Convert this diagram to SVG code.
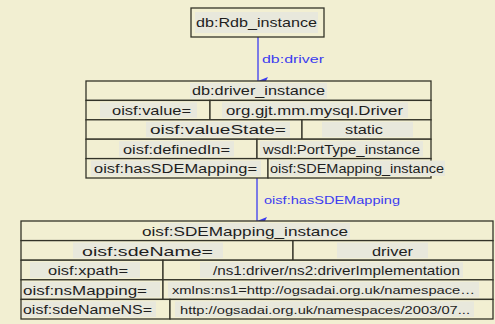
<svg xmlns="http://www.w3.org/2000/svg" width="495" height="324" viewBox="0 0 495 324">
  <style>
    .bg { fill: #f2efd2; }
    .cell { fill: #f2efd2; stroke: #333328; stroke-width: 1.3; }
    .hl { fill: #e8e8dc; }
    .t { font-family: "Liberation Sans", Arial, sans-serif; font-size: 13.5px; fill: #1e1e1e; }
    .s { font-family: "Liberation Sans", Arial, sans-serif; font-size: 11.5px; fill: #1e1e1e; }
    .edge { stroke: #3c3cf0; stroke-width: 1.3; fill: none; }
    .lbl { font-family: "Liberation Sans", Arial, sans-serif; font-size: 11.5px; fill: #3c3cf0; }
  </style>
  <defs>
    <marker id="arrow" viewBox="0 0 8 10" refX="4" refY="10" markerWidth="8" markerHeight="10" markerUnits="userSpaceOnUse" orient="auto-start-reverse">
      <path d="M0,0 L4,2 L8,0 L4,10 Z" fill="#3c3cf0"/>
    </marker>
  </defs>

  <rect class="bg" x="0" y="0" width="495" height="324"/>

  <g id="connectors">
    <g id="edge-driver">
      <line class="edge" x1="258" y1="37" x2="258" y2="81" marker-end="url(#arrow)" transform="rotate(0)"/>
      <text class="lbl" x="262" y="63" textLength="62" lengthAdjust="spacingAndGlyphs">db:driver</text>
    </g>
    <g id="edge-hasSDEMapping">
      <line class="edge" x1="257" y1="178" x2="257" y2="221" marker-end="url(#arrow)"/>
      <text class="lbl" x="264" y="204" textLength="136" lengthAdjust="spacingAndGlyphs">oisf:hasSDEMapping</text>
    </g>
  </g>

  <!-- db:Rdb_instance -->
  <g id="node-rdb-instance">
    <rect class="cell" x="191" y="8" width="133" height="29"/>
    <rect class="hl" x="195" y="12" width="123" height="21"/>
    <text class="t" x="196" y="27" textLength="121" lengthAdjust="spacingAndGlyphs">db:Rdb_instance</text>
  </g>

  <!-- db:driver_instance -->
  <g id="node-driver-instance">
    <rect class="cell" x="86" y="81" width="345" height="19.4"/>
    <rect class="hl" x="190" y="83" width="137" height="15.4"/>
    <text class="t" x="192" y="95" textLength="133" lengthAdjust="spacingAndGlyphs">db:driver_instance</text>

    <rect class="cell" x="86" y="100.4" width="124" height="19.4"/>
    <rect class="cell" x="210" y="100.4" width="221" height="19.4"/>
    <rect class="hl" x="100" y="102.4" width="97" height="15.4"/>
    <text class="t" x="112" y="114.5" textLength="79" lengthAdjust="spacingAndGlyphs">oisf:value=</text>
    <rect class="hl" x="222" y="102.4" width="186" height="15.4"/>
    <text class="t" x="226" y="114.5" textLength="177" lengthAdjust="spacingAndGlyphs">org.gjt.mm.mysql.Driver</text>

    <rect class="cell" x="86" y="119.8" width="216" height="19.4"/>
    <rect class="cell" x="302" y="119.8" width="129" height="19.4"/>
    <rect class="hl" x="146" y="121.8" width="144" height="15.4"/>
    <text class="t" x="150" y="134" textLength="136" lengthAdjust="spacingAndGlyphs">oisf:valueState=</text>
    <rect class="hl" x="322" y="121.8" width="91" height="15.4"/>
    <text class="t" x="345" y="134" textLength="38" lengthAdjust="spacingAndGlyphs">static</text>

    <rect class="cell" x="86" y="139.2" width="171" height="19.4"/>
    <rect class="cell" x="257" y="139.2" width="174" height="19.4"/>
    <rect class="hl" x="119" y="141.2" width="115" height="15.4"/>
    <text class="t" x="123" y="153.5" textLength="107" lengthAdjust="spacingAndGlyphs">oisf:definedIn=</text>
    <rect class="hl" x="260" y="141.2" width="163" height="15.4"/>
    <text class="t" x="263" y="153.5" textLength="157" lengthAdjust="spacingAndGlyphs">wsdl:PortType_instance</text>

    <rect class="cell" x="86" y="158.6" width="182" height="19.4"/>
    <rect class="cell" x="268" y="158.6" width="163" height="19.4"/>
    <rect class="hl" x="91" y="160.6" width="170" height="15.4"/>
    <text class="t" x="94" y="173" textLength="163" lengthAdjust="spacingAndGlyphs">oisf:hasSDEMapping=</text>
    <rect class="hl" x="270" y="160.6" width="175" height="15.4"/>
    <text class="t" x="270" y="173" textLength="174" lengthAdjust="spacingAndGlyphs">oisf:SDEMapping_instance</text>
  </g>

  <!-- oisf:SDEMapping_instance -->
  <g id="node-sdemapping-instance">
    <rect class="cell" x="21" y="221" width="472" height="19.6"/>
    <rect class="hl" x="160" y="223" width="190" height="15.6"/>
    <text class="t" x="142" y="236" textLength="206" lengthAdjust="spacingAndGlyphs">oisf:SDEMapping_instance</text>

    <rect class="cell" x="21" y="240.6" width="272" height="19.6"/>
    <rect class="cell" x="293" y="240.6" width="200" height="19.6"/>
    <rect class="hl" x="73" y="242.6" width="150" height="15.6"/>
    <text class="t" x="82" y="255.5" textLength="131" lengthAdjust="spacingAndGlyphs">oisf:sdeName=</text>
    <rect class="hl" x="337" y="242.6" width="91" height="15.6"/>
    <text class="t" x="372" y="255.5" textLength="41" lengthAdjust="spacingAndGlyphs">driver</text>

    <rect class="cell" x="21" y="260.2" width="142" height="19.6"/>
    <rect class="cell" x="163" y="260.2" width="330" height="19.6"/>
    <rect class="hl" x="30" y="262.2" width="110" height="15.6"/>
    <text class="t" x="48" y="275" textLength="80" lengthAdjust="spacingAndGlyphs">oisf:xpath=</text>
    <rect class="hl" x="200" y="262.2" width="263" height="15.6"/>
    <text class="t" x="213" y="275" textLength="247" lengthAdjust="spacingAndGlyphs">/ns1:driver/ns2:driverImplementation</text>

    <rect class="cell" x="21" y="279.8" width="142" height="19.6"/>
    <rect class="cell" x="163" y="279.8" width="330" height="19.6"/>
    <rect class="hl" x="22" y="281.8" width="138" height="15.6"/>
    <text class="t" x="23" y="294.5" textLength="124" lengthAdjust="spacingAndGlyphs">oisf:nsMapping=</text>
    <rect class="hl" x="168" y="281.8" width="311" height="15.6"/>
    <text class="s" x="172" y="294" textLength="303" lengthAdjust="spacingAndGlyphs">xmlns:ns1=http://ogsadai.org.uk/namespace…</text>

    <rect class="cell" x="21" y="299.4" width="149" height="19.6"/>
    <rect class="cell" x="170" y="299.4" width="323" height="19.6"/>
    <rect class="hl" x="22" y="301.4" width="134" height="15.6"/>
    <text class="t" x="23" y="314" textLength="129" lengthAdjust="spacingAndGlyphs">oisf:sdeNameNS=</text>
    <rect class="hl" x="175" y="301.4" width="299" height="15.6"/>
    <text class="s" x="180" y="313.5" textLength="290" lengthAdjust="spacingAndGlyphs">http://ogsadai.org.uk/namespaces/2003/07...</text>
  </g>
</svg>
